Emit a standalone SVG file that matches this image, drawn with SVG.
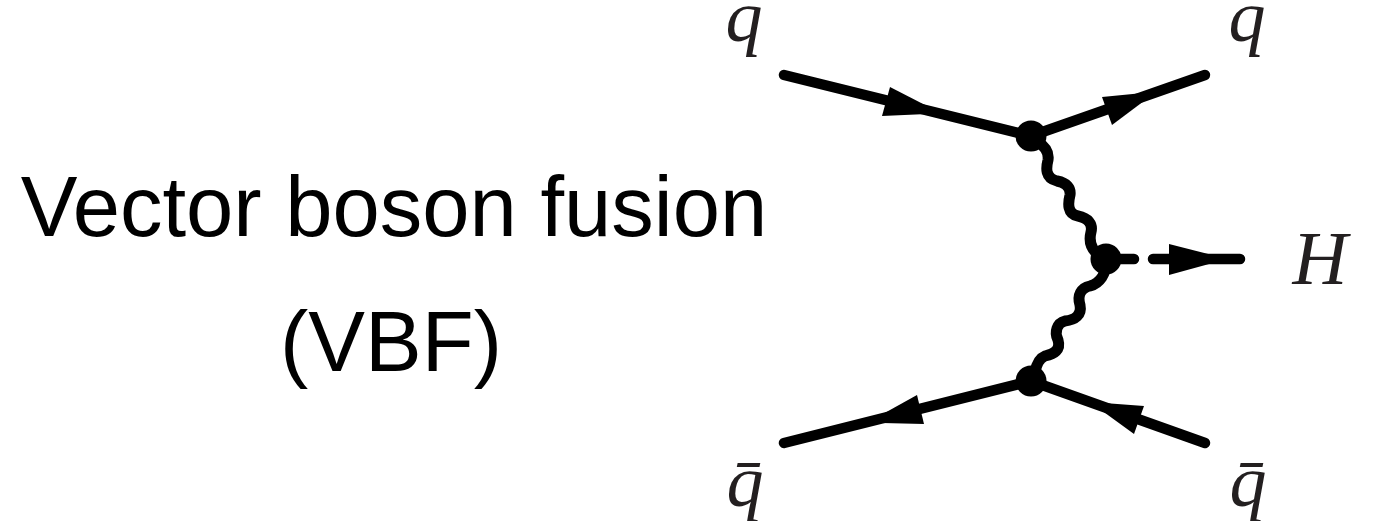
<svg xmlns="http://www.w3.org/2000/svg" width="1373" height="521" viewBox="0 0 1373 521">
<style>
.line{fill:none;stroke:#000;stroke-width:10.5;stroke-linecap:round;stroke-linejoin:round}
.wave{fill:none;stroke:#000;stroke-width:11;stroke-linecap:round}
.head{fill:#000}
.dot{fill:#000}
.title{font-family:"Liberation Sans",Arial,sans-serif;font-size:85px;fill:#000;text-anchor:middle}
.math{font-family:"Liberation Serif","Times New Roman",serif;font-style:italic;font-size:74px;fill:#231f20;text-anchor:middle}
</style>
<rect width="1373" height="521" fill="#fff"/>
<g id="title">
<text class="title" x="394" y="235.5">Vector boson fusion</text>
<text class="title" x="391" y="371">(VBF)</text>
</g>
<g id="connectors">
<path class="line" d="M784,75L1031,136"/>
<path class="line" d="M1031,136L1205,75"/>
<path class="line" d="M784,443L1031,381"/>
<path class="line" d="M1031,381L1205,443"/>
<path class="line" d="M1106,259H1134M1153,259H1240"/>
<path class="wave" d="M1038,142C1046,147 1049,153 1048,160C1046,168 1045,178 1057,181C1067,183 1071,188 1070,195C1068,203 1067,214 1078,216C1088,218 1093,224 1091,232C1089,240 1090,249 1100,256"/>
<path class="wave" d="M1106,262C1106,274 1100,283 1090,286C1081,288 1077,295 1080,305C1082,315 1075,320 1065,321C1057,323 1054,332 1058,340C1061,350 1054,354 1045,356C1040,358 1037,362 1035,372"/>
<polygon class="head" points="890,87 882,116 927,114 927,106"/>
<polygon class="head" points="1102,97 1112,125 1144,101 1143,93"/>
<polygon class="head" points="1169,244 1169,275 1220,261 1220,257"/>
<polygon class="head" points="917,395 924,424 882,423 881,415"/>
<polygon class="head" points="1144,406 1134,434 1101,410 1104,403"/>
</g>
<g id="v1"><circle class="dot" cx="1031" cy="136" r="15.5"/></g>
<g id="v2"><circle class="dot" cx="1106" cy="259" r="15.5"/></g>
<g id="v3"><circle class="dot" cx="1031" cy="381" r="15.5"/></g>
<g id="q-in"><text class="math" x="744" y="41">q</text></g>
<g id="q-out"><text class="math" x="1247" y="41">q</text></g>
<g id="qbar-in"><text class="math" x="745" y="506">q̄</text></g>
<g id="qbar-out"><text class="math" x="1248" y="506">q̄</text></g>
<g id="H"><text class="math" x="1320" y="284" style="font-size:76px">H</text></g>
</svg>
